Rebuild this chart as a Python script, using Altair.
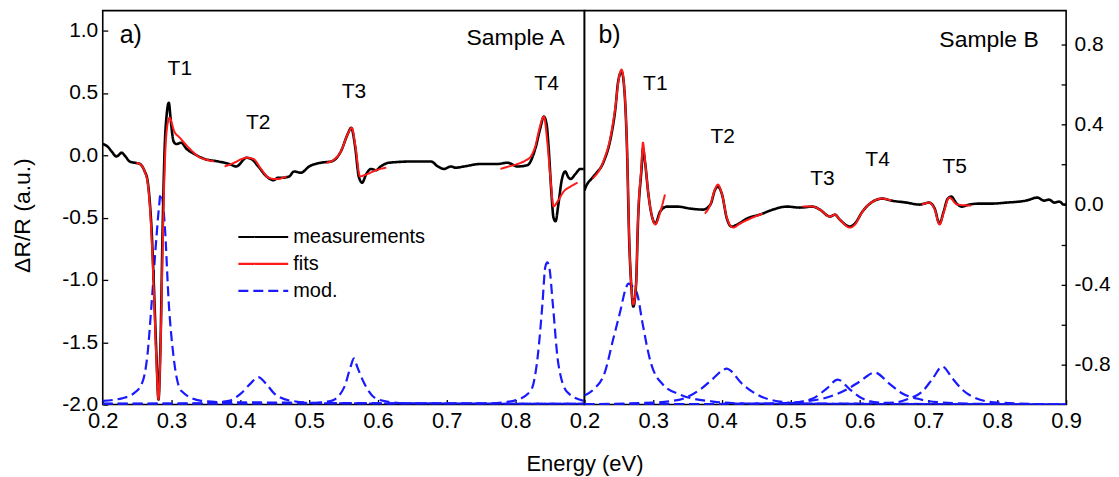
import altair as alt
import pandas as pd

FONT = "Liberation Sans"
SERIES = ["measurements", "fits", "mod."]
COLORS = ["#000000", "#ff1a1a", "#1a1aff"]
DASHES = [[1, 0], [1, 0], [10, 5]]

# ---------------- Panel a) Sample A ----------------
A_MEAS_X = [0.200, 0.207, 0.213, 0.220, 0.2275, 0.233, 0.239, 0.246, 0.254, 0.261, 0.265, 0.268,
            0.271, 0.274, 0.278, 0.281, 0.284, 0.287, 0.290, 0.293, 0.296, 0.299, 0.303, 0.307,
            0.314, 0.322, 0.333, 0.348, 0.368, 0.384, 0.394, 0.409, 0.416, 0.426, 0.438, 0.448,
            0.455, 0.462, 0.471, 0.478, 0.488, 0.500, 0.517, 0.532, 0.546, 0.556, 0.561, 0.567,
            0.572, 0.577, 0.583, 0.590, 0.597, 0.604, 0.616, 0.652, 0.677, 0.687, 0.696, 0.706,
            0.713, 0.725, 0.749, 0.774, 0.788, 0.803, 0.817, 0.829, 0.836, 0.841, 0.845, 0.848,
            0.852, 0.855, 0.858, 0.862, 0.867, 0.872, 0.877, 0.880, 0.887, 0.894, 0.899]
A_MEAS_Y = [0.09, 0.07, 0.03, -0.01, 0.02, -0.01, -0.05, -0.06, -0.07, -0.13, -0.20, -0.35,
            -0.60, -1.00, -1.60, -1.96, -1.50, -0.60, 0.06, 0.33, 0.42, 0.27, 0.11, 0.09,
            0.10, 0.05, 0.01, -0.03, -0.05, -0.07, -0.09, -0.02, -0.03, -0.09, -0.17, -0.20,
            -0.18, -0.18, -0.17, -0.13, -0.14, -0.09, -0.06, -0.05, 0.03, 0.17, 0.22, 0.06,
            -0.17, -0.22, -0.15, -0.11, -0.12, -0.09, -0.06, -0.05, -0.05, -0.09, -0.11, -0.09,
            -0.10, -0.09, -0.07, -0.07, -0.06, -0.09, -0.08, 0.06, 0.22, 0.31, 0.25, 0.06,
            -0.30, -0.50, -0.53, -0.40, -0.20, -0.13, -0.18, -0.19, -0.15, -0.11, -0.11]

A_FIT1_X = [0.249, 0.256, 0.261, 0.266, 0.270, 0.274, 0.278, 0.281, 0.284, 0.287, 0.290, 0.293,
            0.297, 0.304, 0.312, 0.325, 0.339, 0.354, 0.362]
A_FIT1_Y = [-0.06, -0.08, -0.13, -0.25, -0.55, -1.05, -1.65, -1.96, -1.55, -0.75, -0.10, 0.20,
            0.30, 0.19, 0.14, 0.06, -0.01, -0.04, -0.05]
A_FIT2_X = [0.377, 0.391, 0.402, 0.409, 0.419, 0.430, 0.441, 0.449, 0.456, 0.462, 0.467]
A_FIT2_Y = [-0.09, -0.06, -0.03, -0.02, -0.03, -0.11, -0.18, -0.19, -0.19, -0.18, -0.17]
A_FIT3_X = [0.525, 0.535, 0.546, 0.556, 0.562, 0.567, 0.574, 0.580, 0.585, 0.597, 0.612]
A_FIT3_Y = [-0.06, -0.04, 0.03, 0.17, 0.22, 0.08, -0.17, -0.16, -0.15, -0.12, -0.10]
A_FIT4_X = [0.778, 0.790, 0.803, 0.815, 0.822, 0.829, 0.834, 0.841, 0.846, 0.851, 0.855, 0.861,
            0.870, 0.880, 0.890]
A_FIT4_Y = [-0.11, -0.09, -0.07, -0.04, -0.01, 0.08, 0.20, 0.31, 0.11, -0.21, -0.41, -0.37,
            -0.29, -0.25, -0.22]

A_MOD1_X = [0.200, 0.228, 0.245, 0.257, 0.265, 0.271, 0.278, 0.282, 0.284, 0.286, 0.290, 0.296,
            0.303, 0.314, 0.343, 0.372, 0.900]
A_MOD1_Y = [-1.97, -1.95, -1.91, -1.83, -1.60, -1.19, -0.66, -0.40, -0.31, -0.33, -0.55, -1.19,
            -1.62, -1.89, -1.97, -1.98, -1.995]
A_MOD2_X = [0.200, 0.340, 0.383, 0.401, 0.415, 0.426, 0.437, 0.449, 0.474, 0.520, 0.900]
A_MOD2_Y = [-1.995, -1.99, -1.97, -1.91, -1.83, -1.78, -1.83, -1.91, -1.97, -1.99, -1.995]
A_MOD3_X = [0.200, 0.500, 0.532, 0.551, 0.560, 0.565, 0.570, 0.580, 0.600, 0.640, 0.900]
A_MOD3_Y = [-1.995, -1.99, -1.97, -1.86, -1.70, -1.63, -1.70, -1.83, -1.96, -1.99, -1.995]
A_MOD4_X = [0.200, 0.760, 0.797, 0.822, 0.832, 0.839, 0.843, 0.846, 0.849, 0.854, 0.862, 0.875, 0.899]
A_MOD4_Y = [-1.995, -1.99, -1.97, -1.89, -1.62, -1.19, -0.90, -0.86, -0.90, -1.19, -1.67, -1.90, -1.97]

A_PEAK_TEXT = ["T1", "T2", "T3", "T4"]
A_PEAK_X = [0.312, 0.426, 0.565, 0.845]
A_PEAK_Y = [0.69, 0.26, 0.51, 0.57]

# ---------------- Panel b) Sample B ----------------
B_MEAS_X = [0.200, 0.201, 0.213, 0.228, 0.238, 0.245, 0.249, 0.254, 0.257, 0.262, 0.265, 0.268,
            0.271, 0.275, 0.278, 0.283, 0.285, 0.288, 0.293, 0.299, 0.303, 0.310, 0.320, 0.335,
            0.354, 0.372, 0.383, 0.390, 0.394, 0.400, 0.407, 0.414, 0.422, 0.436, 0.455, 0.474,
            0.494, 0.513, 0.532, 0.542, 0.557, 0.564, 0.571, 0.586, 0.593, 0.604, 0.619, 0.633,
            0.646, 0.668, 0.687, 0.701, 0.709, 0.716, 0.722, 0.728, 0.733, 0.741, 0.748, 0.759,
            0.774, 0.793, 0.813, 0.832, 0.842, 0.858, 0.868, 0.875, 0.883, 0.890, 0.897, 0.900]
B_MEAS_Y = [0.07, 0.08, 0.14, 0.215, 0.33, 0.48, 0.615, 0.665, 0.615, 0.265, -0.17, -0.40,
            -0.51, -0.40, -0.07, 0.18, 0.28, 0.215, 0.05, -0.07, -0.095, -0.035, -0.01, -0.01,
            -0.02, -0.025, 0.0, 0.075, 0.09, 0.05, -0.07, -0.11, -0.10, -0.07, -0.05, -0.025,
            -0.01, -0.015, -0.01, -0.025, -0.06, -0.05, -0.075, -0.11, -0.095, -0.035, 0.015, 0.03,
            0.02, 0.01, 0.0, 0.01, -0.02, -0.095, -0.035, 0.03, 0.04, 0.005, -0.01, 0.0,
            0.005, 0.005, 0.01, 0.015, 0.02, 0.035, 0.02, 0.025, 0.01, 0.015, 0.0, 0.0]

B_FIT1_X = [0.212, 0.228, 0.238, 0.245, 0.250, 0.254, 0.257, 0.262, 0.265, 0.268, 0.271, 0.275,
            0.278, 0.283, 0.285, 0.288, 0.293, 0.299, 0.303, 0.309, 0.317]
B_FIT1_Y = [0.13, 0.22, 0.34, 0.49, 0.63, 0.675, 0.62, 0.27, -0.16, -0.40, -0.50, -0.40,
            -0.06, 0.20, 0.31, 0.22, 0.05, -0.07, -0.10, -0.05, 0.05]
B_FIT2_X = [0.375, 0.383, 0.389, 0.394, 0.400, 0.407, 0.416, 0.426, 0.441, 0.459]
B_FIT2_Y = [-0.045, 0.0, 0.07, 0.10, 0.05, -0.065, -0.115, -0.095, -0.07, -0.045]
B_FIT3_X = [0.517, 0.532, 0.542, 0.557, 0.564, 0.571, 0.586, 0.593, 0.604, 0.619, 0.633, 0.646]
B_FIT3_Y = [-0.01, -0.01, -0.025, -0.06, -0.05, -0.075, -0.115, -0.10, -0.035, 0.015, 0.03, 0.02]
B_FIT4_X = [0.690, 0.701, 0.709, 0.716, 0.722, 0.730, 0.742, 0.762]
B_FIT4_Y = [0.0, 0.01, -0.025, -0.10, -0.04, 0.035, 0.0, -0.005]

B_MOD1_X = [0.200, 0.213, 0.230, 0.242, 0.252, 0.260, 0.264, 0.270, 0.277, 0.284, 0.296, 0.314,
            0.339, 0.387, 0.436, 0.900]
B_MOD1_Y = [-0.955, -0.925, -0.835, -0.67, -0.535, -0.42, -0.395, -0.41, -0.45, -0.585, -0.785,
            -0.90, -0.95, -0.985, -0.995, -1.0]
B_MOD2_X = [0.200, 0.300, 0.339, 0.368, 0.387, 0.400, 0.407, 0.414, 0.426, 0.451, 0.484, 0.520, 0.900]
B_MOD2_Y = [-0.998, -0.99, -0.975, -0.925, -0.87, -0.83, -0.82, -0.835, -0.885, -0.95, -0.985,
            -0.995, -1.0]
B_MOD3_X = [0.200, 0.470, 0.505, 0.532, 0.552, 0.568, 0.586, 0.604, 0.629, 0.680, 0.900]
B_MOD3_Y = [-1.0, -0.995, -0.99, -0.97, -0.92, -0.875, -0.925, -0.97, -0.99, -0.997, -1.0]
B_MOD4_X = [0.200, 0.480, 0.520, 0.557, 0.581, 0.600, 0.622, 0.643, 0.662, 0.683, 0.720, 0.780, 0.900]
B_MOD4_Y = [-1.0, -0.995, -0.985, -0.96, -0.925, -0.885, -0.84, -0.895, -0.945, -0.97, -0.99,
            -0.997, -1.0]
B_MOD5_X = [0.200, 0.600, 0.650, 0.672, 0.691, 0.706, 0.720, 0.735, 0.749, 0.774, 0.800, 0.900]
B_MOD5_Y = [-1.0, -0.995, -0.99, -0.97, -0.935, -0.87, -0.81, -0.87, -0.925, -0.975, -0.99, -1.0]

B_PEAK_TEXT = ["T1", "T2", "T3", "T4", "T5"]
B_PEAK_X = [0.303, 0.401, 0.546, 0.626, 0.738]
B_PEAK_Y = [0.605, 0.34, 0.13, 0.225, 0.19]

# panel letters and sample names
A_TAG = ["a)"]
A_TAG_X = [0.2246]
A_TAG_Y = [0.968]
A_NAME = ["Sample A"]
A_NAME_X = [0.80]
A_NAME_Y = [0.944]
B_TAG = ["b)"]
B_TAG_X = [0.2203]
B_TAG_Y = [0.85]
B_NAME = ["Sample B"]
B_NAME_X = [0.788]
B_NAME_Y = [0.825]

# axis ticks
A_X_TICKS = [0.2, 0.25, 0.3, 0.35, 0.4, 0.45, 0.5, 0.55, 0.6, 0.65, 0.7, 0.75, 0.8, 0.85]
B_X_TICKS = [0.2, 0.25, 0.3, 0.35, 0.4, 0.45, 0.5, 0.55, 0.6, 0.65, 0.7, 0.75, 0.8, 0.85, 0.9]
A_Y_TICKS = [-2.0, -1.75, -1.5, -1.25, -1.0, -0.75, -0.5, -0.25, 0.0, 0.25, 0.5, 0.75, 1.0]
B_Y_TICKS = [-0.8, -0.6, -0.4, -0.2, 0.0, 0.2, 0.4, 0.6, 0.8]

A_X_DOMAIN = [0.2, 0.9]
B_X_DOMAIN = [0.2, 0.9]
A_Y_DOMAIN = [-2.0, 1.16]
B_Y_DOMAIN = [-1.0, 0.97]

PW, PH = 483, 395


def frame(xs, ys, series, group):
    return pd.DataFrame({"x": xs, "y": ys, "series": series, "group": group})


def signed(expr_cond):
    return (expr_cond + " ? (datum.value < 0 ? '-' : '') + format(abs(datum.value), '.1f') : ''")


AX_COMMON = dict(domain=False, grid=False, offset=-5, tickSize=5, tickWidth=1.3,
                 tickColor="black", labelColor="black", labelFont=FONT,
                 labelFlush=False, labelOverlap=False, labelBound=False,
                 titleFont=FONT, titleFontWeight="normal", titleColor="black")


def panel(meas, fits, mods, peaks, tag, name, xdom, ydom, xaxis, yaxis, show_legend):
    xs = alt.Scale(domain=xdom, nice=False, zero=False)
    ys = alt.Scale(domain=ydom, nice=False, zero=False)
    if show_legend:
        leg = alt.Legend(title=None, orient="none", legendX=151, legendY=217,
                         symbolType="M-5,0H5", symbolSize=100, symbolStrokeWidth=2.2,
                         labelFont=FONT, labelFontSize=20, labelColor="black",
                         labelOffset=20, rowPadding=7, padding=0)
    else:
        leg = None
    color = alt.Color("series:N", scale=alt.Scale(domain=SERIES, range=COLORS), legend=leg)
    dash = alt.StrokeDash("series:N", scale=alt.Scale(domain=SERIES, range=DASHES), legend=leg)

    def lines(df, sw):
        return alt.Chart(df).mark_line(strokeWidth=sw, interpolate="monotone", clip=True).encode(
            x=alt.X("x:Q", scale=xs, axis=xaxis),
            y=alt.Y("y:Q", scale=ys, axis=yaxis),
            color=color, strokeDash=dash, detail="group:N")

    def texts(df, size, align):
        return alt.Chart(df).mark_text(font=FONT, fontSize=size, align=align,
                                       baseline="middle", color="black").encode(
            x=alt.X("x:Q", scale=xs), y=alt.Y("y:Q", scale=ys), text="t:N")

    return alt.layer(
        lines(mods, 2.2),
        lines(meas, 2.6),
        lines(fits, 2),
        texts(peaks, 21, "center"),
        texts(tag, 25, "left"),
        texts(name, 23, "center"),
    ).properties(width=PW, height=PH)


def tdf(t, x, y):
    return pd.DataFrame({"t": t, "x": x, "y": y})


a_meas = frame(A_MEAS_X, A_MEAS_Y, "measurements", "m")
a_fits = pd.concat([frame(A_FIT1_X, A_FIT1_Y, "fits", "f1"), frame(A_FIT2_X, A_FIT2_Y, "fits", "f2"),
                    frame(A_FIT3_X, A_FIT3_Y, "fits", "f3"), frame(A_FIT4_X, A_FIT4_Y, "fits", "f4")])
a_mods = pd.concat([frame(A_MOD1_X, A_MOD1_Y, "mod.", "d1"), frame(A_MOD2_X, A_MOD2_Y, "mod.", "d2"),
                    frame(A_MOD3_X, A_MOD3_Y, "mod.", "d3"), frame(A_MOD4_X, A_MOD4_Y, "mod.", "d4")])
b_meas = frame(B_MEAS_X, B_MEAS_Y, "measurements", "m")
b_fits = pd.concat([frame(B_FIT1_X, B_FIT1_Y, "fits", "f1"), frame(B_FIT2_X, B_FIT2_Y, "fits", "f2"),
                    frame(B_FIT3_X, B_FIT3_Y, "fits", "f3"), frame(B_FIT4_X, B_FIT4_Y, "fits", "f4")])
b_mods = pd.concat([frame(B_MOD1_X, B_MOD1_Y, "mod.", "d1"), frame(B_MOD2_X, B_MOD2_Y, "mod.", "d2"),
                    frame(B_MOD3_X, B_MOD3_Y, "mod.", "d3"), frame(B_MOD4_X, B_MOD4_Y, "mod.", "d4"),
                    frame(B_MOD5_X, B_MOD5_Y, "mod.", "d5")])

X_LABELS = "abs(datum.value*10 - round(datum.value*10)) < 0.001 ? format(datum.value, '.1f') : ''"
a_xaxis = alt.Axis(values=A_X_TICKS, title=None, labelPadding=6, labelFontSize=22,
                   labelExpr=X_LABELS, **AX_COMMON)
b_xaxis = alt.Axis(values=B_X_TICKS, title="Energy (eV)", labelPadding=6, labelFontSize=22,
                   labelExpr=X_LABELS,
                   titleFontSize=22, titleX=0, titleY=64, titleAlign="center", titleBaseline="middle",
                   **AX_COMMON)
a_yaxis = alt.Axis(values=A_Y_TICKS, title="ΔR/R (a.u.)", labelPadding=5, labelFontSize=21,
                   labelExpr=signed("abs(datum.value*2 - round(datum.value*2)) < 0.001"),
                   titleFontSize=23, titleX=-85, titleY=205, titleAlign="center",
                   titleBaseline="middle", titleAngle=270, **AX_COMMON)
b_yaxis = alt.Axis(values=B_Y_TICKS, title=None, orient="right", labelPadding=8, labelFontSize=21,
                   labelExpr=signed("abs(datum.value*2.5 - round(datum.value*2.5)) < 0.001"),
                   **AX_COMMON)

chart_a = panel(a_meas, a_fits, a_mods, tdf(A_PEAK_TEXT, A_PEAK_X, A_PEAK_Y),
                tdf(A_TAG, A_TAG_X, A_TAG_Y), tdf(A_NAME, A_NAME_X, A_NAME_Y),
                A_X_DOMAIN, A_Y_DOMAIN, a_xaxis, a_yaxis, True)
chart_b = panel(b_meas, b_fits, b_mods, tdf(B_PEAK_TEXT, B_PEAK_X, B_PEAK_Y),
                tdf(B_TAG, B_TAG_X, B_TAG_Y), tdf(B_NAME, B_NAME_X, B_NAME_Y),
                B_X_DOMAIN, B_Y_DOMAIN, b_xaxis, b_yaxis, False)

chart = alt.hconcat(chart_a, chart_b, spacing=0, bounds="flush").resolve_scale(
    x="independent", y="independent", color="independent", strokeDash="independent"
).properties(
    padding={"left": 3, "top": 1, "right": 0, "bottom": 0}, background="white"
).configure_view(stroke="black", strokeWidth=1.6)

chart.save("out.html", embed_options={"renderer": "svg", "actions": False})
